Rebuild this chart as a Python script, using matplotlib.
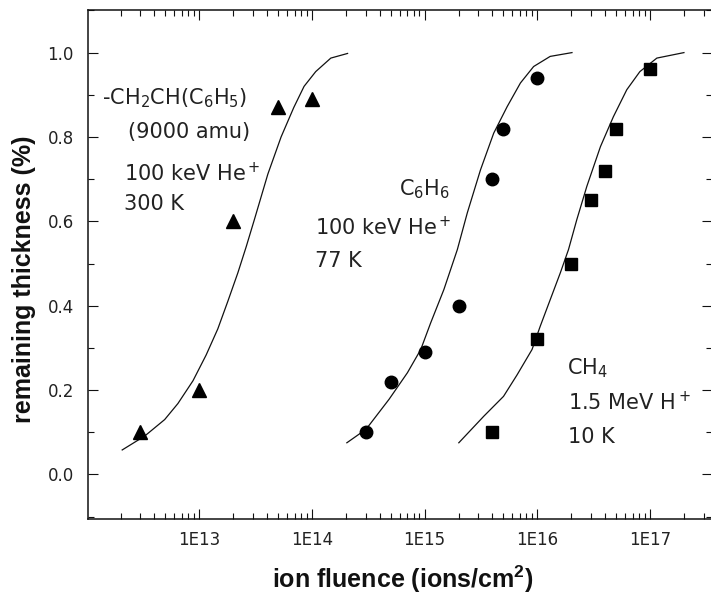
import numpy as np
import matplotlib
matplotlib.use("Agg")
import matplotlib.pyplot as plt
from matplotlib.ticker import LogLocator, FuncFormatter, MultipleLocator, NullFormatter

plt.rcParams['font.family'] = ['DejaVu Sans']
plt.rcParams['mathtext.default'] = 'regular'

# Measured points: polystyrene (triangles), benzene (circles), methane (squares)
ps_fluence = [3e12, 1e13, 2e13, 5e13, 1e14]
ps_thick = [0.10, 0.20, 0.60, 0.87, 0.89]

bz_fluence = [3e14, 5e14, 1e15, 2e15, 4e15, 5e15, 1e16]
bz_thick = [0.10, 0.22, 0.29, 0.40, 0.70, 0.82, 0.94]

me_fluence = [4e15, 1e16, 2e16, 3e16, 4e16, 5e16, 1e17]
me_thick = [0.10, 0.32, 0.50, 0.65, 0.72, 0.82, 0.96]

# Model curves
ps_fit_fluence = [2.07e12, 3.28e12, 4.93e12, 6.46e12, 8.79e12, 1.15e13, 1.46e13,
                  1.79e13, 2.20e13, 2.61e13, 3.09e13, 4.06e13, 5.32e13, 6.90e13,
                  8.51e13, 1.08e14, 1.47e14, 2.07e14]
ps_fit_thick = [0.058, 0.091, 0.130, 0.168, 0.222, 0.283, 0.345,
                0.410, 0.478, 0.540, 0.605, 0.712, 0.800, 0.870,
                0.920, 0.955, 0.987, 0.998]

bz_fit_fluence = [2.04e14, 3.02e14, 4.83e14, 7.03e14, 9.23e14, 1.13e15, 1.48e15,
                  1.95e15, 2.39e15, 3.13e15, 4.10e15, 5.40e15, 7.08e15, 9.27e15,
                  1.30e16, 2.03e16]
bz_fit_thick = [0.075, 0.107, 0.178, 0.241, 0.296, 0.359, 0.438,
                0.533, 0.620, 0.722, 0.809, 0.872, 0.928, 0.967,
                0.991, 1.000]

me_fit_fluence = [2.01e15, 3.35e15, 5.01e15, 6.61e15, 8.97e15, 1.06e16, 1.30e16,
                  1.60e16, 1.89e16, 2.24e16, 2.75e16, 3.63e16, 4.73e16, 6.22e16,
                  8.13e16, 1.15e17, 2.00e17]
me_fit_thick = [0.075, 0.138, 0.185, 0.236, 0.296, 0.351, 0.414,
                0.478, 0.533, 0.604, 0.683, 0.777, 0.848, 0.912,
                0.955, 0.987, 1.000]

y_ticks = [0.0, 0.2, 0.4, 0.6, 0.8, 1.0]

W, H = 711, 595
fig = plt.figure(figsize=(W / 100, H / 100), dpi=100)
left, right, top, bottom = 87.7, 712.0, 10.0, 518.7
ax = fig.add_axes([left / W, 1 - bottom / H, (right - left) / W, (bottom - top) / H])

ink = '#111111'
ax.plot(ps_fit_fluence, ps_fit_thick, color=ink, lw=0.9)
ax.plot(bz_fit_fluence, bz_fit_thick, color=ink, lw=0.9)
ax.plot(me_fit_fluence, me_fit_thick, color=ink, lw=0.9)

ax.plot(ps_fluence, ps_thick, ls='none', marker='^', ms=10, color='black')
ax.plot(bz_fluence, bz_thick, ls='none', marker='o', ms=9, color='black')
ax.plot(me_fluence, me_thick, ls='none', marker='s', ms=8.5, color='black')

ax.set_xscale('log')
ax.set_xlim(10 ** 12.0098, 10 ** 17.55)
ax.set_ylim(-0.105, 1.101)

ax.xaxis.set_major_locator(LogLocator(base=10, numticks=20))
ax.xaxis.set_minor_locator(LogLocator(base=10, subs=np.arange(2, 10), numticks=20))
ax.xaxis.set_major_formatter(FuncFormatter(lambda v, p: f"1E{int(round(np.log10(v)))}"))
ax.xaxis.set_minor_formatter(NullFormatter())
ax.set_yticks(y_ticks)
ax.yaxis.set_minor_locator(MultipleLocator(0.1))
ax.yaxis.set_major_formatter(FuncFormatter(lambda v, p: f"{v:.1f}"))

ax.tick_params(which='both', direction='in', top=True, right=True, width=0.8,
               colors='#111111', labelcolor='#222222', labelsize=12)
ax.tick_params(which='major', length=7)
ax.tick_params(which='minor', length=4)
ax.tick_params(axis='x', which='major', pad=9)
ax.tick_params(axis='y', which='major', pad=10)
for s in ax.spines.values():
    s.set_linewidth(1.1)
    s.set_color('#111111')

label_font = dict(family='Liberation Sans', weight='bold', size=18, color='#111111')
fig.text(403 / W, 1 - 579 / H, "ion fluence (ions/cm$^2$)", ha='center', va='center', **label_font)
fig.text(24 / W, 1 - 279 / H, "remaining thickness (%)", ha='center', va='center',
         rotation=90, **label_font)


def note(px, py, s):
    ax.text((px - left) / (right - left), (bottom - py) / (bottom - top), s,
            transform=ax.transAxes, ha='left', va='center', fontsize=15, color='#222222')


note(102, 98, "-CH$_2$CH(C$_6$H$_5$)")
note(128, 132, "(9000 amu)")
note(124, 173, "100 keV He$^+$")
note(124, 204, "300 K")

note(399, 189, "C$_6$H$_6$")
note(315, 227, "100 keV He$^+$")
note(315, 261, "77 K")

note(567, 368, "CH$_4$")
note(568, 402, "1.5 MeV H$^+$")
note(568, 437, "10 K")

fig.savefig("out.png", dpi=100, facecolor='white')
